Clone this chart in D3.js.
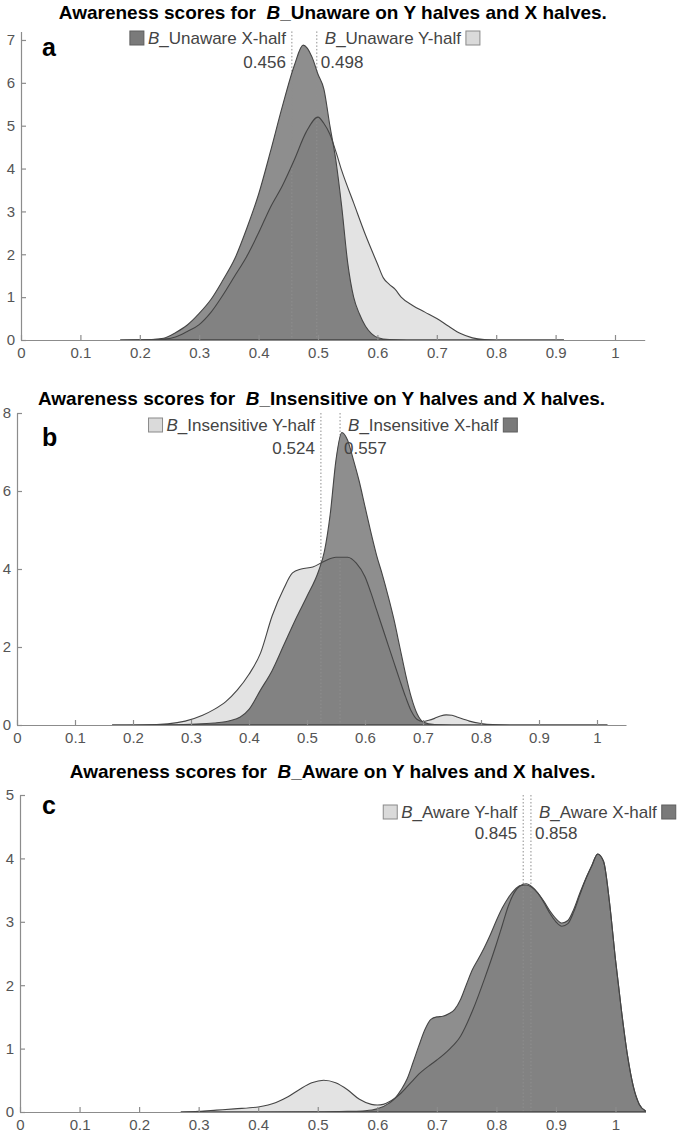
<!DOCTYPE html>
<html><head><meta charset="utf-8">
<script src="https://cdn.jsdelivr.net/npm/d3@7"></script>
<style>
body{margin:0;background:#fff}
svg{display:block}
text{font-family:"Liberation Sans",Arial,Helvetica,sans-serif;white-space:pre}
</style>
</head><body>
<svg id="chart" width="685" height="1138"></svg>
<script>
// ---------- DATA ----------
const xTicks = [0,0.1,0.2,0.3,0.4,0.5,0.6,0.7,0.8,0.9,1];

// Panel a : B_Unaware
const aYTicks = [0,1,2,3,4,5,6,7];
const aXv = [0.167,0.20,0.22,0.24,0.26,0.28,0.30,0.32,0.34,0.36,0.38,0.40,0.42,0.44,0.46,0.475,0.49,0.50,0.51,0.52,0.53,0.54,0.55,0.56,0.57,0.58,0.59,0.60,0.62,0.65,0.914];
const aXd = [0,0.005,0.01,0.04,0.17,0.35,0.62,0.95,1.4,1.9,2.6,3.4,4.4,5.45,6.4,6.88,6.6,6.2,5.85,5.0,4.2,3.1,1.8,1.0,0.6,0.32,0.15,0.06,0.01,0,0];
const aYv = [0.167,0.20,0.24,0.26,0.28,0.30,0.32,0.34,0.36,0.38,0.40,0.42,0.44,0.46,0.48,0.50,0.51,0.52,0.53,0.54,0.56,0.58,0.60,0.61,0.62,0.63,0.64,0.66,0.68,0.70,0.72,0.74,0.76,0.78,0.80,0.914];
const aYd = [0,0.003,0.02,0.07,0.2,0.36,0.65,1.05,1.5,1.95,2.5,3.1,3.6,4.2,4.85,5.2,5.05,4.8,4.4,3.95,3.2,2.45,1.78,1.45,1.3,1.18,1.0,0.8,0.65,0.5,0.32,0.15,0.05,0.01,0,0];
const aMeans = {X:0.456, Y:0.498};

// Panel b : B_Insensitive
const bYTicks = [0,2,4,6,8];
const bXv = [0.164,0.25,0.30,0.34,0.37,0.40,0.42,0.44,0.46,0.48,0.50,0.52,0.53,0.54,0.55,0.56,0.57,0.58,0.59,0.60,0.61,0.62,0.63,0.64,0.65,0.66,0.67,0.68,0.69,0.70,0.72,0.75,1.018];
const bXd = [0,0.003,0.02,0.05,0.12,0.4,0.9,1.4,2.05,2.7,3.3,3.95,4.45,5.4,6.8,7.5,7.3,6.8,6.25,5.6,4.95,4.35,3.85,3.3,2.7,2.0,1.3,0.7,0.28,0.08,0.01,0,0];
const bYv = [0.164,0.22,0.26,0.29,0.32,0.34,0.36,0.38,0.40,0.42,0.44,0.46,0.475,0.49,0.51,0.53,0.55,0.57,0.585,0.60,0.61,0.62,0.63,0.64,0.65,0.66,0.67,0.68,0.69,0.70,0.71,0.72,0.73,0.74,0.75,0.76,0.77,0.78,0.80,0.82,0.85,1.018];
const bYd = [0,0.003,0.03,0.1,0.25,0.4,0.6,0.9,1.3,1.85,2.8,3.5,3.9,4.0,4.05,4.2,4.3,4.3,4.15,3.8,3.4,2.95,2.5,2.05,1.6,1.15,0.72,0.35,0.14,0.09,0.12,0.17,0.23,0.26,0.25,0.2,0.15,0.1,0.04,0.01,0,0];
const bMeans = {X:0.557, Y:0.524};

// Panel c : B_Aware
const cYTicks = [0,1,2,3,4,5];
const cXv = [0.27,0.50,0.55,0.58,0.60,0.62,0.63,0.64,0.65,0.66,0.67,0.68,0.69,0.70,0.71,0.72,0.73,0.74,0.75,0.76,0.77,0.78,0.79,0.80,0.81,0.82,0.83,0.84,0.85,0.86,0.87,0.88,0.89,0.90,0.91,0.92,0.93,0.94,0.95,0.96,0.97,0.98,0.99,1.00,1.01,1.02,1.03,1.04,1.05];
const cXd = [0,0.002,0.01,0.02,0.05,0.14,0.22,0.35,0.52,0.78,1.05,1.3,1.46,1.5,1.51,1.55,1.62,1.78,2.02,2.25,2.42,2.6,2.8,3.02,3.22,3.38,3.5,3.57,3.58,3.54,3.45,3.32,3.17,3.05,2.98,3.02,3.2,3.45,3.68,3.88,4.07,3.95,3.3,2.4,1.6,0.9,0.4,0.12,0.02];
const cYv = [0.27,0.30,0.33,0.36,0.40,0.43,0.45,0.47,0.49,0.51,0.53,0.55,0.57,0.59,0.60,0.61,0.62,0.63,0.64,0.65,0.66,0.67,0.68,0.69,0.70,0.72,0.74,0.76,0.78,0.80,0.81,0.82,0.83,0.84,0.85,0.86,0.87,0.88,0.89,0.90,0.91,0.92,0.93,0.94,0.95,0.96,0.97,0.98,0.99,1.00,1.01,1.02,1.03,1.04,1.05];
const cYd = [0,0.01,0.03,0.05,0.08,0.15,0.24,0.36,0.46,0.5,0.46,0.35,0.2,0.12,0.11,0.12,0.16,0.22,0.3,0.4,0.5,0.6,0.68,0.75,0.82,0.98,1.2,1.6,2.1,2.65,2.95,3.25,3.46,3.57,3.6,3.55,3.45,3.3,3.13,3.0,2.93,2.97,3.16,3.42,3.67,3.88,4.07,3.95,3.3,2.4,1.6,0.9,0.4,0.12,0.02];
const cMeans = {X:0.858, Y:0.845};

// ---------- LAYOUT ----------
const panels = [
  {lab:'a', name:'Unaware', x0:21, xu:594, base:340, yu:42.86, ytop:7.2, yticks:aYTicks,
   X:[aXv,aXd], Y:[aYv,aYd], means:aMeans, order:['X','Y'],
   titleY:19, legY:44, numY:68, labY:56},
  {lab:'b', name:'Insensitive', x0:17, xu:580, base:725, yu:39.0, ytop:8, yticks:bYTicks,
   X:[bXv,bXd], Y:[bYv,bYd], means:bMeans, order:['Y','X'],
   titleY:405, legY:431, numY:454, labY:446},
  {lab:'c', name:'Aware', x0:20, xu:595.5, base:1112, yu:63.4, ytop:5, yticks:cYTicks,
   X:[cXv,cXd], Y:[cYv,cYd], means:cMeans, order:['Y','X'],
   titleY:778, legY:818, numY:839, labY:814}
];

const FONT = '"Liberation Sans",Arial,Helvetica,sans-serif';
const svg = d3.select('#chart');
const fmt = d3.format('~g');
const fmt3 = d3.format('.3f');

panels.forEach(p => {
  const g = svg.append('g');
  const x = d3.scaleLinear().domain([0,1.05]).range([p.x0, p.x0 + 1.05*p.xu]);
  const y = d3.scaleLinear().domain([0,p.ytop]).range([p.base, p.base - p.ytop*p.yu]);

  const area = d3.area().x(d=>x(d[0])).y0(y(0)).y1(d=>y(d[1])).curve(d3.curveMonotoneX);
  const toPts = s => s[0].map((v,i)=>[v, s[1][i]]);

  // fills: Y (light) below, X (dark, translucent) above
  g.append('path').attr('d', area(toPts(p.Y))).attr('fill','#e3e3e3').attr('stroke','none');
  g.append('path').attr('d', area(toPts(p.X))).attr('fill','#383838').attr('fill-opacity',0.57).attr('stroke','none');
  // mean lines
  ['X','Y'].forEach(s=>{
    g.append('line').attr('x1',x(p.means[s])).attr('x2',x(p.means[s]))
      .attr('y1',y(p.ytop)).attr('y2',y(0))
      .attr('stroke','#8f8f8f').attr('stroke-width',1).attr('stroke-dasharray','1.5,2');
  });
  // outlines
  g.append('path').attr('d', area(toPts(p.Y))).attr('fill','none').attr('stroke','#454545').attr('stroke-width',1.1);
  g.append('path').attr('d', area(toPts(p.X))).attr('fill','none').attr('stroke','#454545').attr('stroke-width',1.1);

  // axes
  const gx = g.append('g').attr('transform',`translate(0,${p.base})`)
    .call(d3.axisBottom(x).tickValues(xTicks).tickFormat(fmt).tickSizeInner(-5).tickSizeOuter(0).tickPadding(7));
  const gy = g.append('g').attr('transform',`translate(${p.x0},0)`)
    .call(d3.axisLeft(y).tickValues(p.yticks).tickFormat(fmt).tickSizeInner(-5).tickSizeOuter(0).tickPadding(6));
  [gx,gy].forEach(a=>{
    a.attr('font-family',FONT).attr('font-size',15);
    a.selectAll('path,line').attr('stroke','#8c8c8c').attr('stroke-width',1.2);
    a.selectAll('text').attr('fill','#555');
  });

  // title
  const cx = (x(0)+x(1.05))/2;
  const t = g.append('text').attr('x',cx).attr('y',p.titleY).attr('text-anchor','middle')
    .attr('font-size',19).attr('font-weight','bold').attr('fill','#000');
  t.append('tspan').text('Awareness scores for  ');
  t.append('tspan').attr('font-style','italic').text('B');
  t.append('tspan').text(`_${p.name} on Y halves and X halves.`);

  // panel label
  g.append('text').attr('x',42).attr('y',p.labY).attr('font-size',25).attr('font-weight','bold').attr('fill','#000').text(p.lab);

  // legend entries
  p.order.forEach((s,i)=>{
    const xm = x(p.means[s]);
    const left = i===0;
    const lt = g.append('text').attr('y',p.legY).attr('font-size',17).attr('fill','#444');
    lt.append('tspan').attr('font-style','italic').text('B');
    lt.append('tspan').text(`_${p.name} ${s}-half`);
    const w = lt.node().getComputedTextLength();
    let sqX;
    if (left) { lt.attr('text-anchor','end').attr('x', xm-6); sqX = xm-6-w-4-14; }
    else { lt.attr('x', xm+8); sqX = xm+8+w+5; }
    g.append('rect').attr('x',sqX).attr('y',p.legY-13).attr('width',14).attr('height',14)
      .attr('fill', s==='X' ? '#7a7a7a' : '#dadada').attr('stroke', s==='X' ? '#5e5e5e' : '#8a8a8a').attr('stroke-width',1);
    g.append('text').attr('y',p.numY).attr('font-size',17).attr('fill','#444')
      .attr('text-anchor', left ? 'end' : 'start').attr('x', left ? xm-6 : xm+4)
      .text(fmt3(p.means[s]));
  });
});
</script>
</body></html>
